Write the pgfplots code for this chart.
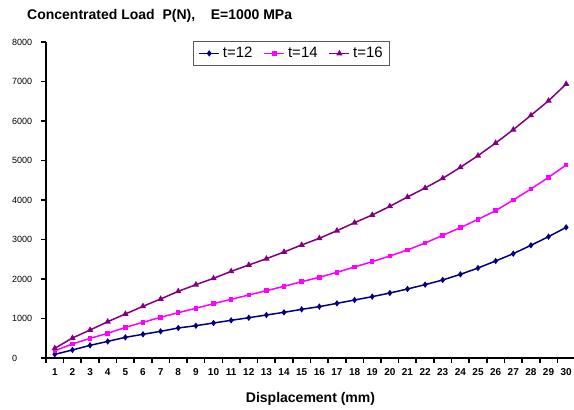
\documentclass[border=0pt]{standalone}
\usepackage{fontspec}
\setmainfont{Liberation Sans}
\usepackage{pgfplots}
\pgfplotsset{compat=1.18}
\definecolor{cA}{RGB}{0,0,128}
\definecolor{cB}{RGB}{255,0,255}
\definecolor{cC}{RGB}{128,0,128}
\begin{document}
\begin{tikzpicture}
\begin{axis}[
  scale only axis,
  width=529pt, height=316pt,
  xmin=0.5, xmax=30.5,
  ymin=0, ymax=8000,
  axis lines=left,
  axis line style={line width=1.6pt, -},
  xtick={1,...,30},
  minor xtick={0.5,1.5,...,30.5},
  major tick length=0pt,
  minor tick length=5pt,
  ytick={0,1000,...,8000},
  every tick/.style={black, line width=1.6pt},
  y tick style={/pgfplots/major tick length=5pt},
  xtick pos=bottom, ytick pos=left,
  tick align=outside,
  scaled y ticks=false,
  /pgf/number format/assume math mode=true,
  /pgf/number format/set thousands separator={},
  yticklabel style={font=\fontsize{9}{10}\selectfont, anchor=west, inner sep=0pt, xshift=-34pt},
  xticklabel style={font=\bfseries\fontsize{10}{11}\selectfont, anchor=base, inner sep=0pt, yshift=-17pt},
  xlabel={\bfseries Displacement (mm)},
  xlabel style={at={(axis description cs:0.5,0)}, anchor=base, inner sep=0pt, yshift=-45pt, font=\fontsize{14}{15}\selectfont},
  legend columns=3,
  legend style={at={(rel axis cs:0.278,1.003)}, anchor=north west, draw=black!65, line width=0.8pt,
    font=\fontsize{15}{16}\selectfont, inner xsep=5pt, inner ysep=4pt,
    /tikz/every odd column/.append style={column sep=1pt},
    /tikz/every even column/.append style={column sep=9pt}},
  legend image code/.code={\draw[mark repeat=2,mark phase=2] plot coordinates {(0pt,0pt) (10pt,0pt) (20pt,0pt)};},
  clip=false,
]
\addplot[cA, line width=1.5pt, mark=diamond*, mark size=2pt] coordinates {
(1,93)(2,203)(3,320)(4,420)(5,523)(6,600)(7,675)(8,760)(9,818)(10,886)
(11,954)(12,1020)(13,1089)(14,1156)(15,1232)(16,1300)(17,1384)(18,1468)(19,1553)(20,1645)
(21,1747)(22,1857)(23,1975)(24,2118)(25,2278)(26,2456)(27,2641)(28,2853)(29,3072)(30,3308)};
\addlegendentry{t=12}
\addplot[cB, line width=1.5pt, mark=square*, mark size=1.5pt] coordinates {
(1,185)(2,354)(3,498)(4,624)(5,776)(6,903)(7,1030)(8,1147)(9,1258)(10,1375)
(11,1486)(12,1595)(13,1704)(14,1815)(15,1932)(16,2043)(17,2170)(18,2304)(19,2439)(20,2582)
(21,2734)(22,2911)(23,3106)(24,3300)(25,3511)(26,3729)(27,4000)(28,4278)(29,4574)(30,4886)};
\addlegendentry{t=14}
\addplot[cC, line width=1.5pt, mark=triangle*, mark size=2.2pt] coordinates {
(1,245)(2,506)(3,709)(4,919)(5,1114)(6,1309)(7,1494)(8,1688)(9,1856)(10,2017)
(11,2194)(12,2354)(13,2514)(14,2684)(15,2861)(16,3030)(17,3223)(18,3426)(19,3620)(20,3840)
(21,4076)(22,4304)(23,4549)(24,4827)(25,5122)(26,5443)(27,5780)(28,6143)(29,6513)(30,6937)};
\addlegendentry{t=16}
\end{axis}
\node[anchor=base west, inner sep=0pt, font=\bfseries\fontsize{14}{15}\selectfont] at ([shift={(-19pt,338.7pt)}]current axis.south west) {Concentrated Load\ \ P(N),\ \ \ \ E=1000 MPa};
\pgfresetboundingbox
\path ([shift={(-46pt,-52pt)}]current axis.south west) rectangle ([shift={(528pt,358pt)}]current axis.south west);
\end{tikzpicture}
\end{document}
